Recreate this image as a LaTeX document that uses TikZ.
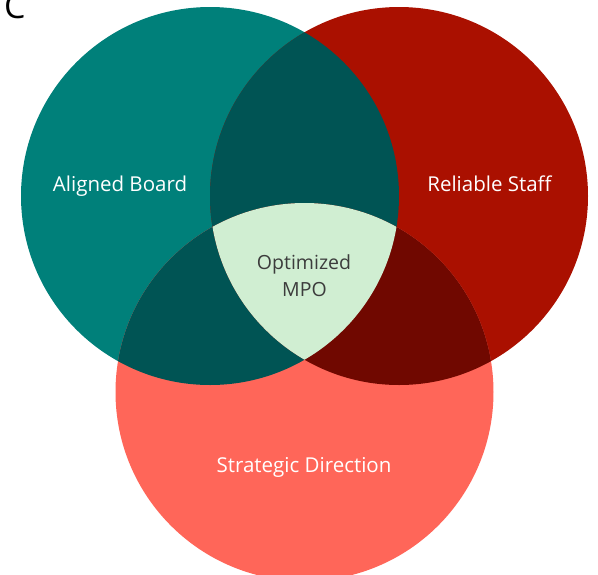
\documentclass[tikz,border=0pt]{standalone}
\usepackage{fontspec}
\setmainfont{Open Sans}
\definecolor{tealA}{RGB}{0,128,122}
\definecolor{redB}{RGB}{170,16,0}
\definecolor{salmonC}{RGB}{255,102,89}
\definecolor{darkteal}{RGB}{0,84,84}
\definecolor{darkred}{RGB}{112,8,0}
\definecolor{paleg}{RGB}{208,238,210}
\definecolor{txtgray}{RGB}{60,60,60}
\begin{document}
\begin{tikzpicture}[x=1pt,y=-1pt,
  lbl/.style={text=white,font=\fontsize{20.5}{22}\selectfont,inner sep=0pt,anchor=base},
  midlbl/.style={text=txtgray,font=\fontsize{19.5}{22}\selectfont,inner sep=0pt,anchor=base}]
\useasboundingbox (0,0) rectangle (598,574);
\def\R{189}
\coordinate (A) at (210,196);
\coordinate (B) at (399,196);
\coordinate (C) at (304.5,392);
\fill[tealA] (A) circle (\R);
\fill[redB] (B) circle (\R);
\fill[salmonC] (C) circle (\R);
\begin{scope}
  \clip (A) circle (\R);
  \fill[darkteal] (B) circle (\R);
  \fill[darkteal] (C) circle (\R);
\end{scope}
\begin{scope}
  \clip (B) circle (\R);
  \fill[darkred] (C) circle (\R);
\end{scope}
\begin{scope}
  \clip (A) circle (\R);
  \clip (B) circle (\R);
  \fill[paleg] (C) circle (\R);
\end{scope}
\node[lbl] (la) at (120,191) {Aligned Board};
\node[lbl] (lb) at (489.5,191) {Reliable Staff};
\node[lbl] (lc) at (304,472) {Strategic Direction};
\node[midlbl] (lm1) at (304,269) {Optimized};
\node[midlbl] (lm2) at (304.5,296) {MPO};
\node[anchor=base west,inner sep=0pt,font=\fontsize{34}{34}\selectfont] (lt) at (4,18) {C};
\end{tikzpicture}
\end{document}
